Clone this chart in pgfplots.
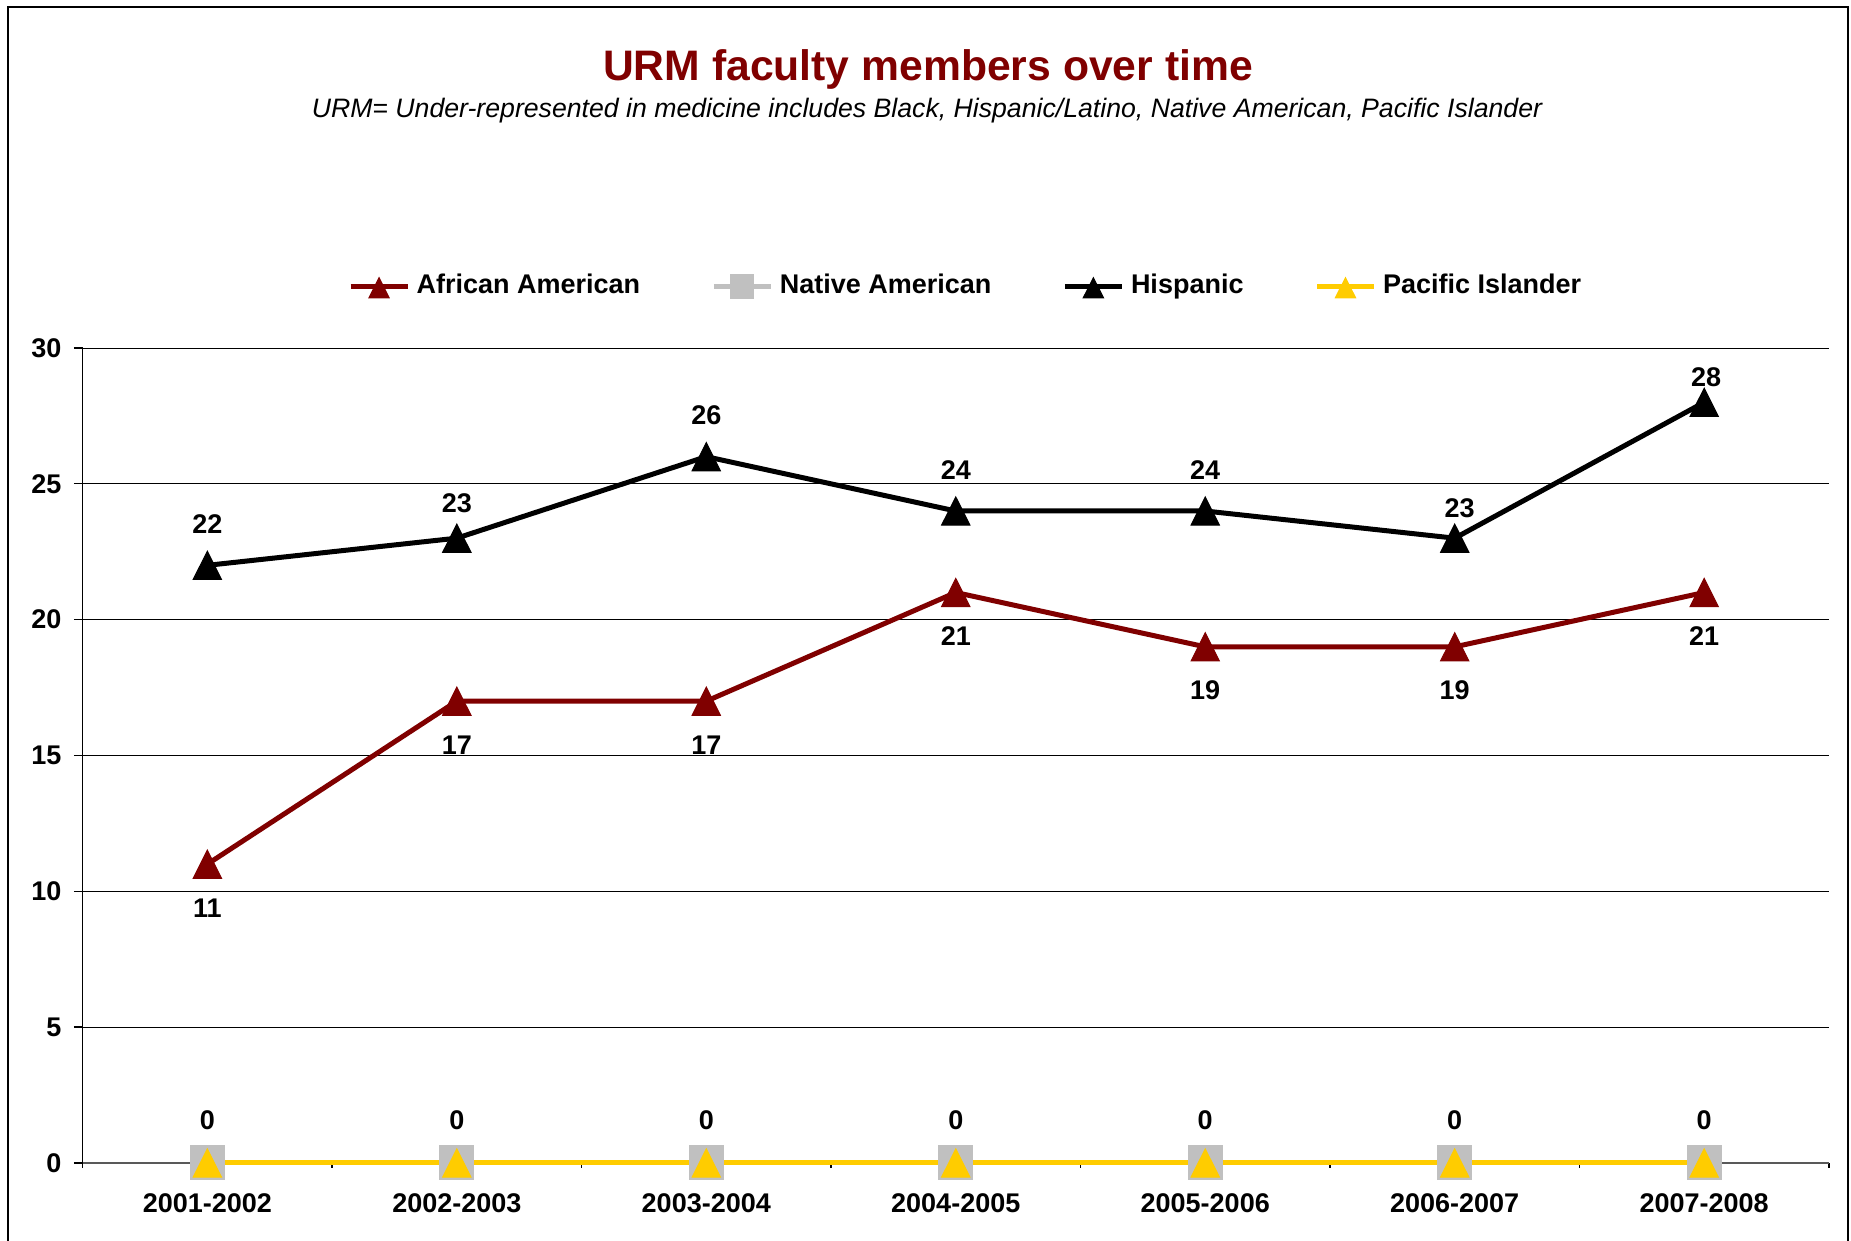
\documentclass[border=0pt]{standalone}
\usepackage{fontspec}
\setmainfont{Liberation Sans}
\usepackage{pgfplots}
\usepackage{pgfplotstable}
\pgfplotsset{compat=1.18}
\definecolor{urmRed}{RGB}{128,0,0}
\definecolor{naGray}{RGB}{192,192,192}
\definecolor{piGold}{RGB}{255,204,0}
\newcommand\lblfont{\fontsize{8.1}{9.7}\selectfont\bfseries}

% African American
\pgfplotstableread{
x y
0 11
1 17
2 17
3 21
4 19
5 19
6 21
}\afam
% Hispanic, with label offsets (pt)
\pgfplotstableread{
x y off dx
0 22 13.8 0
1 23 11.75 0
2 26 13.95 0
3 24 13.8 0
4 24 13.8 0
5 23 10.5 1.5
6 28 8.85 0.6
}\hisp
% Native American
\pgfplotstableread{
x y
0 0
1 0
2 0
3 0
4 0
5 0
6 0
}\natam
% Pacific Islander
\pgfplotstableread{
x y
0 0
1 0
2 0
3 0
4 0
5 0
6 0
}\pacisl

\begin{document}
\begin{tikzpicture}
\useasboundingbox (0,0) rectangle (555.3pt,372.3pt);
\fill[white] (0,0) rectangle (555.3pt,372.3pt);
\begin{scope}
\clip (0,0) rectangle (555.3pt,372.3pt);
\draw[line width=0.4pt] (2.4pt,-5pt) -- (2.4pt,370.2pt) -- (554.4pt,370.2pt) -- (554.4pt,-5pt);
\end{scope}
\node[anchor=base, text=urmRed, font=\fontsize{12.8}{15}\selectfont\bfseries] at (278.4pt,348pt) {URM faculty members over time};
\node[anchor=base, font=\fontsize{8}{9.6}\selectfont\itshape] at (278.1pt,337pt) {URM= Under-represented in medicine includes Black, Hispanic/Latino, Native American, Pacific Islander};

\begin{axis}[
    at={(24.78pt,23.4pt)}, anchor=south west,
    scale only axis,
    width=523.9pt, height=244.5pt,
    xmin=-0.5, xmax=6.5, ymin=0, ymax=30,
    axis lines*=left,
    xtick={0,...,6},
    xticklabels={2001-2002,2002-2003,2003-2004,2004-2005,2005-2006,2006-2007,2007-2008},
    minor xtick={-0.5,0.5,...,6.5},
    ytick={0,5,...,30},
    tick align=outside,
    major tick length=2.6pt,
    minor tick length=1.5pt,
    major x tick style={draw=none},
    tick style={black, line width=0.4pt},
    x axis line style={black!65, line width=0.5pt},
    y axis line style={black, line width=0.4pt},
    ymajorgrids,
    major grid style={black, line width=0.3pt},
    /pgf/number format/assume math mode=true,
    ticklabel style={font=\lblfont},
    xticklabel style={yshift=-3.0pt},
    yticklabel style={xshift=-0.2pt},
    clip=false,
    legend columns=4,
    legend style={at={(0.507,1.0756)}, anchor=center, draw=none, fill=none,
        font=\lblfont, /tikz/every even column/.append style={column sep=19.3pt},
        inner sep=0pt},
    legend cell align=left,
    legend image post style={mark size=3.5pt},
    nodes near coords style={font=\lblfont, anchor=center, text=black},
]
\addplot[color=urmRed, line width=1.5pt, mark=triangle*,
    mark size=4.9pt, mark options={solid, line width=0.3pt, yshift=-1.41pt, yscale=1.15, fill=urmRed},
    nodes near coords, nodes near coords style={yshift=-11.7pt}]
    table[x=x, y=y] {\afam};
\addlegendentry{African American}
\addplot[color=naGray, line width=1.5pt, mark=square*,
    mark size=5.1pt, mark options={solid, line width=0.3pt, fill=naGray}]
    table[x=x, y=y] {\natam};
\addlegendentry{Native American}
\addplot[color=black, line width=1.5pt, mark=triangle*,
    mark size=4.9pt, mark options={solid, line width=0.3pt, yshift=-1.41pt, yscale=1.15, fill=black},
    visualization depends on={\thisrow{off} \as \lbloff},
    visualization depends on={\thisrow{dx} \as \lbldx},
    nodes near coords, nodes near coords style={yshift=\lbloff pt, xshift=\lbldx pt}]
    table[x=x, y=y] {\hisp};
\addlegendentry{Hispanic}
\addplot[color=piGold, line width=1.5pt, mark=triangle*,
    mark size=4.9pt, mark options={solid, line width=0.3pt, yshift=-1.41pt, yscale=1.15, fill=piGold},
    nodes near coords, nodes near coords style={yshift=14.15pt}]
    table[x=x, y=y] {\pacisl};
\addlegendentry{Pacific Islander}
\end{axis}
\end{tikzpicture}
\end{document}
